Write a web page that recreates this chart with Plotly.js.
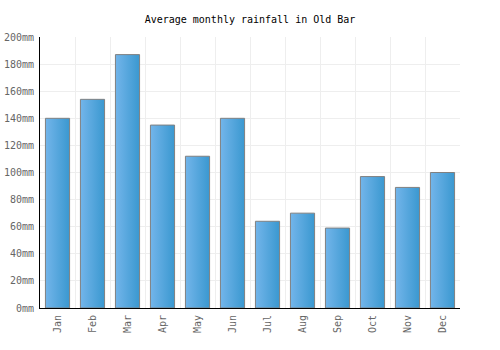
<!DOCTYPE html>
<html>
<head>
<meta charset="utf-8">
<script src="https://cdn.plot.ly/plotly-3.0.1.min.js"></script>
<style>html,body{margin:0;padding:0;background:#fff;}#chart{width:500px;height:350px;}</style>
</head>
<body>
<div id="chart"></div>
<script>
var months = ["Jan","Feb","Mar","Apr","May","Jun","Jul","Aug","Sep","Oct","Nov","Dec"];
var rainfall = [140,154,187,135,112,140,64,70,59,97,89,100];
var yTicks = [0,20,40,60,80,100,120,140,160,180,200];

var font = "'DejaVu Sans Mono', 'Liberation Mono', monospace";
var trace = {
  type: "bar",
  x: months,
  y: rainfall,
  marker: {color: "#55a7de", line: {color: "#808080", width: 1}},
  hoverinfo: "none"
};
var layout = {
  width: 500, height: 350,
  margin: {l: 40, r: 40, t: 37, b: 42},
  paper_bgcolor: "#fff", plot_bgcolor: "#fff",
  title: {text: "Average monthly rainfall in Old Bar", x: 0.5, xanchor: "center", y: 0.945, yanchor: "middle",
          font: {family: font, size: 10, color: "#000"}},
  bargap: 0.31,
  showlegend: false,
  xaxis: {
    type: "category", tickangle: -90, tickson: "boundaries", ticks: "",
    showgrid: true, gridcolor: "#eeeeee", gridwidth: 1,
    showline: true, linecolor: "#000", linewidth: 1,
    ticklabelstandoff: 2,
    tickfont: {family: font, size: 10, color: "#666"}
  },
  yaxis: {
    range: [0, 200], tickvals: yTicks, ticktext: yTicks.map(function(v){return v + "mm";}),
    showgrid: true, gridcolor: "#eeeeee", gridwidth: 1, zeroline: false,
    showline: true, linecolor: "#000", linewidth: 1, ticks: "",
    ticklabelstandoff: 3,
    tickfont: {family: font, size: 10, color: "#666"}
  }
};
Plotly.newPlot("chart", [trace], layout, {staticPlot: true, displayModeBar: false}).then(function(gd){
  var svgNS = "http://www.w3.org/2000/svg";
  var svg = gd.querySelector("svg.main-svg");
  var defs = svg.querySelector("defs");
  var g = document.createElementNS(svgNS, "linearGradient");
  g.setAttribute("id", "barGrad");
  g.setAttribute("x1", "0"); g.setAttribute("y1", "0");
  g.setAttribute("x2", "1"); g.setAttribute("y2", "0");
  [["0%", "#73b5ea"], ["100%", "#3a98d0"]].forEach(function(s){
    var st = document.createElementNS(svgNS, "stop");
    st.setAttribute("offset", s[0]);
    st.setAttribute("stop-color", s[1]);
    g.appendChild(st);
  });
  defs.appendChild(g);
  gd.querySelectorAll(".bars .point path").forEach(function(p){
    p.style.fill = "url(#barGrad)";
  });
});
</script>
</body>
</html>
